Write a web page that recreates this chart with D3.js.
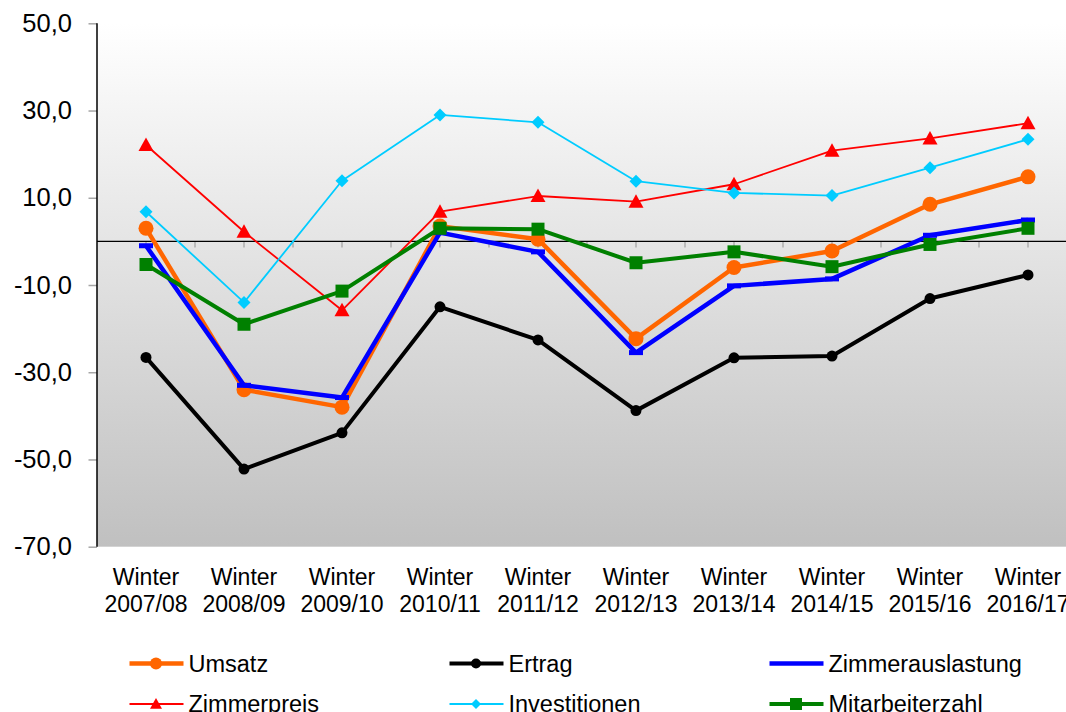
<!DOCTYPE html>
<html>
<head>
<meta charset="utf-8">
<script src="https://cdn.jsdelivr.net/npm/d3@7"></script>
<style>
  html, body { margin: 0; padding: 0; background: #ffffff; }
  svg { display: block; font-family: "Liberation Sans", Arial, sans-serif; }
</style>
</head>
<body>
<svg id="chart" width="1066" height="712"></svg>
<script>
// Saison-Kategorien (zweizeilige Beschriftung)
const categories = ["2007/08", "2008/09", "2009/10", "2010/11", "2011/12",
                    "2012/13", "2013/14", "2014/15", "2015/16", "2016/17"];
const categoryPrefix = "Winter";

// Saldenwerte je Indikator
const umsatz           = [3.0, -34.0, -38.0, 3.5, 0.5, -22.3, -6.0, -2.2, 8.5, 14.8];
const ertrag           = [-26.6, -52.2, -43.9, -15.0, -22.6, -38.8, -26.7, -26.3, -13.1, -7.7];
const zimmerauslastung = [-1.0, -33.0, -35.8, 2.0, -2.4, -25.5, -10.2, -8.6, 1.4, 4.9];
const zimmerpreis      = [22.1, 2.2, -15.8, 6.8, 10.4, 9.1, 13.1, 20.8, 23.6, 27.1];
const investitionen    = [6.8, -14.0, 13.9, 29.0, 27.3, 13.8, 11.1, 10.5, 16.9, 23.4];
const mitarbeiterzahl  = [-5.3, -19.0, -11.4, 3.0, 2.8, -4.9, -2.4, -5.8, -0.7, 3.0];

const yTicks = [50, 30, 10, -10, -30, -50, -70];
const yDomain = [-70, 50];

const series = [
  { name: "Umsatz",           values: umsatz,           color: "#ff6600", width: 4.5, marker: "circle",   size: 7.5, legSize: 6 },
  { name: "Ertrag",           values: ertrag,           color: "#000000", width: 4,   marker: "circle",   size: 5.5, legSize: 5 },
  { name: "Zimmerauslastung", values: zimmerauslastung, color: "#0000ff", width: 4.5, marker: "dash",     size: 7,   legSize: 0 },
  { name: "Zimmerpreis",      values: zimmerpreis,      color: "#ff0000", width: 1.8, marker: "triangle", size: 7.5, legSize: 6 },
  { name: "Investitionen",    values: investitionen,    color: "#00ccff", width: 1.8, marker: "diamond",  size: 6.5, legSize: 5 },
  { name: "Mitarbeiterzahl",  values: mitarbeiterzahl,  color: "#008000", width: 4,   marker: "square",   size: 6.5, legSize: 6 }
];

const svg = d3.select("#chart");
const plot = { left: 97, top: 23.3, bottom: 546.7 };
const band = 98;

const x = d3.scaleBand()
  .domain(categories)
  .range([plot.left, plot.left + band * categories.length])
  .paddingInner(0).paddingOuter(0);
const y = d3.scaleLinear().domain(yDomain).range([plot.bottom, plot.top]);
const cx = c => x(c) + x.bandwidth() / 2;

// Hintergrund mit Verlauf
const defs = svg.append("defs");
const grad = defs.append("linearGradient")
  .attr("id", "bg").attr("x1", 0).attr("y1", 0).attr("x2", 0).attr("y2", 1);
grad.append("stop").attr("offset", "0%").attr("stop-color", "#ffffff");
grad.append("stop").attr("offset", "100%").attr("stop-color", "#c0c0c0");

svg.append("rect")
  .attr("x", plot.left).attr("y", plot.top)
  .attr("width", band * categories.length).attr("height", plot.bottom - plot.top)
  .attr("fill", "url(#bg)");

// Y-Achse (Dezimalkomma, einfacher Bindestrich als Minus)
const yAxis = d3.axisLeft(y).tickValues(yTicks).tickSize(8.5).tickPadding(16.5)
  .tickFormat(d => d.toFixed(1).replace(".", ","));
const gy = svg.append("g").attr("transform", `translate(${plot.left},0)`).call(yAxis);
gy.select(".domain").remove();
gy.selectAll(".tick line").attr("stroke", "#a6a6a6").attr("stroke-width", 1.5);
gy.selectAll(".tick text").attr("font-size", 25.5).attr("fill", "#000")
  .attr("font-family", "'Liberation Sans', Arial, sans-serif");
svg.append("line")
  .attr("x1", plot.left).attr("x2", plot.left)
  .attr("y1", plot.top).attr("y2", plot.bottom)
  .attr("stroke", "#000").attr("stroke-width", 1.5);

// X-Achse auf der Nulllinie, Teilstriche an Mitten und Grenzen
const y0 = y(0);
const tickPositions = [];
categories.forEach(c => { tickPositions.push(x(c)); tickPositions.push(cx(c)); });
tickPositions.push(plot.left + band * categories.length);
svg.append("g").selectAll("line").data(tickPositions.filter(p => p > plot.left + 1)).join("line")
  .attr("x1", d => d).attr("x2", d => d)
  .attr("y1", y0).attr("y2", y0 + 6)
  .attr("stroke", "#a0a0a0").attr("stroke-width", 1.2);
svg.append("line")
  .attr("x1", plot.left).attr("x2", plot.left + band * categories.length)
  .attr("y1", y0).attr("y2", y0)
  .attr("stroke", "#000").attr("stroke-width", 1.3);

// Kategorienbeschriftung
const xl = svg.append("g").selectAll("text").data(categories).join("text")
  .attr("x", d => cx(d)).attr("text-anchor", "middle")
  .attr("font-size", 23).attr("fill", "#000");
xl.append("tspan").attr("x", d => cx(d)).attr("y", 585).text(categoryPrefix);
xl.append("tspan").attr("x", d => cx(d)).attr("y", 611.5).text(d => d);

// Markerformen
function drawMarker(g, type, px, py, s, color) {
  if (type === "circle") {
    g.append("circle").attr("cx", px).attr("cy", py).attr("r", s).attr("fill", color);
  } else if (type === "square") {
    g.append("rect").attr("x", px - s).attr("y", py - s).attr("width", 2 * s).attr("height", 2 * s).attr("fill", color);
  } else if (type === "diamond") {
    g.append("path").attr("d", `M${px},${py - s}L${px + s},${py}L${px},${py + s}L${px - s},${py}Z`).attr("fill", color);
  } else if (type === "triangle") {
    g.append("path").attr("d", `M${px},${py - s}L${px + s},${py + s * 0.8}L${px - s},${py + s * 0.8}Z`).attr("fill", color);
  } else if (type === "dash") {
    g.append("rect").attr("x", px - s).attr("y", py - 2.5).attr("width", 2 * s).attr("height", 5).attr("fill", color);
  }
}

// Linien und Marker
const line = d3.line().x((d, i) => cx(categories[i])).y(d => y(d));
series.forEach(s => {
  const g = svg.append("g");
  g.append("path").datum(s.values)
    .attr("d", line).attr("fill", "none")
    .attr("stroke", s.color).attr("stroke-width", s.width)
    .attr("stroke-linejoin", "round");
  s.values.forEach((v, i) => drawMarker(g, s.marker, cx(categories[i]), y(v), s.size, s.color));
});

// Legende
const legendCols = [129.5, 449.5, 769.5];
const legendRows = [663.5, 704];
series.forEach((s, i) => {
  const lx = legendCols[i % 3], ly = legendRows[Math.floor(i / 3)];
  const g = svg.append("g");
  g.append("line").attr("x1", lx).attr("x2", lx + 54).attr("y1", ly).attr("y2", ly)
    .attr("stroke", s.color).attr("stroke-width", s.width);
  if (s.legSize > 0) drawMarker(g, s.marker, lx + 26.5, ly, s.legSize, s.color);
  g.append("text").attr("x", lx + 59).attr("y", ly + 8)
    .attr("font-size", 23.5).attr("fill", "#000").text(s.name);
});
</script>
</body>
</html>
